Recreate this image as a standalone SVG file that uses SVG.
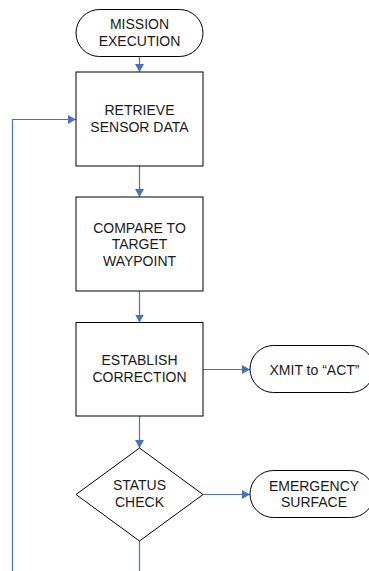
<svg xmlns="http://www.w3.org/2000/svg" width="369" height="571" viewBox="0 0 369 571">
  <style>
    .shape { fill: #ffffff; stroke: #000000; stroke-width: 1; }
    .label { font-family: "Liberation Sans", Arial, sans-serif; font-size: 14px; fill: #1a1a1a; text-anchor: middle; }
    .flow { fill: none; stroke: #4472C4; stroke-width: 1.2; }
    .flow-arrow { fill: none; stroke: #4472C4; stroke-width: 1.2; marker-end: url(#arrow); }
  </style>
  <defs>
    <marker id="arrow" markerWidth="9" markerHeight="9" refX="8" refY="4.5" orient="auto" markerUnits="userSpaceOnUse">
      <path d="M0,0 L8,4.5 L0,9 Z" fill="#4472C4"/>
    </marker>
  </defs>
  <rect width="369" height="571" fill="#ffffff"/>

  <g id="connectors">
    <line class="flow-arrow" x1="139.5" y1="57" x2="139.5" y2="72"/>
    <line class="flow-arrow" x1="139.5" y1="166" x2="139.5" y2="197"/>
    <line class="flow-arrow" x1="139.5" y1="291" x2="139.5" y2="322.5"/>
    <line class="flow-arrow" x1="203" y1="369.5" x2="250" y2="369.5"/>
    <line class="flow-arrow" x1="139.5" y1="416" x2="139.5" y2="448"/>
    <line class="flow-arrow" x1="203" y1="494.5" x2="250" y2="494.5"/>
    <line class="flow" x1="139.5" y1="541" x2="139.5" y2="571"/>
    <polyline class="flow-arrow" points="12.5,571 12.5,119.5 76,119.5"/>
  </g>

  <g id="mission-execution">
    <rect class="shape" x="76" y="9.5" width="127" height="47" rx="23.5" ry="23.5"/>
    <text class="label" x="139.5" y="29">MISSION</text>
    <text class="label" x="139.5" y="46">EXECUTION</text>
  </g>

  <g id="retrieve-sensor-data">
    <rect class="shape" x="76" y="72" width="127" height="94"/>
    <text class="label" x="139.5" y="115">RETRIEVE</text>
    <text class="label" x="139.5" y="132">SENSOR DATA</text>
  </g>

  <g id="compare-to-target">
    <rect class="shape" x="76" y="197" width="127" height="94"/>
    <text class="label" x="139.5" y="232.5">COMPARE TO</text>
    <text class="label" x="139.5" y="249">TARGET</text>
    <text class="label" x="139.5" y="265.5">WAYPOINT</text>
  </g>

  <g id="establish-correction">
    <rect class="shape" x="76" y="322.5" width="127" height="93.5"/>
    <text class="label" x="139.5" y="365">ESTABLISH</text>
    <text class="label" x="139.5" y="382">CORRECTION</text>
  </g>

  <g id="xmit-to-act">
    <rect class="shape" x="250" y="345.5" width="124" height="47" rx="23.5" ry="23.5"/>
    <text class="label" x="314.5" y="374.5">XMIT to “ACT”</text>
  </g>

  <g id="status-check">
    <polygon class="shape" points="139.5,448 203,494.5 139.5,541 76,494.5"/>
    <text class="label" x="139.5" y="490">STATUS</text>
    <text class="label" x="139.5" y="507">CHECK</text>
  </g>

  <g id="emergency-surface">
    <rect class="shape" x="250" y="470.5" width="124" height="47" rx="23.5" ry="23.5"/>
    <text class="label" x="314" y="490.5">EMERGENCY</text>
    <text class="label" x="314" y="507">SURFACE</text>
  </g>
</svg>
